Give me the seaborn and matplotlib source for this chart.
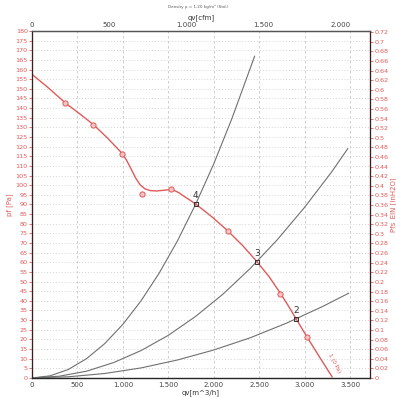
import numpy as np
import pandas as pd
import matplotlib
matplotlib.use("Agg")
import matplotlib.pyplot as plt
import seaborn as sns

# fan curve (m3/h, Pa)
fan_q = [0, 180, 366, 520, 674, 830, 992, 1040, 1090, 1140, 1190, 1240, 1300, 1370, 1440, 1500,
         1560, 1620, 1680, 1740, 1802, 1900, 2000, 2157, 2320, 2476, 2610, 2733, 2820, 2908,
         3025, 3160, 3304]
fan_p = [157.5, 150.5, 142.7, 137.2, 131.5, 124.5, 116.5, 113.0, 108.5, 103.8, 100.2, 98.2, 97.2,
         97.0, 97.3, 97.6, 97.4, 96.0, 94.0, 92.2, 90.2, 86.6, 82.8, 76.2, 68.6, 60.3, 52.5,
         44.0, 37.5, 30.6, 21.4, 11.2, 0.5]

# measured points (open circles)
meas_q = [366, 674, 992, 1212, 1535, 2157, 2733, 3025]
meas_p = [142.5, 131.0, 116.2, 95.4, 97.8, 76.2, 43.4, 21.4]

# system curves
sys4_q = [0, 200, 400, 600, 800, 1000, 1200, 1400, 1600, 1800, 2000, 2200, 2451]
sys4_p = [0, 1.1, 4.4, 10.0, 17.8, 27.8, 40.0, 54.4, 71.0, 90.0, 111.0, 134.5, 167.0]
sys3_q = [0, 300, 600, 900, 1200, 1500, 1800, 2100, 2400, 2700, 3000, 3300, 3476]
sys3_p = [0, 0.9, 3.5, 8.0, 14.2, 22.1, 31.9, 43.4, 56.7, 71.7, 88.5, 107.0, 119.0]
sys2_q = [0, 400, 800, 1200, 1600, 2000, 2400, 2800, 3200, 3487]
sys2_p = [0, 0.6, 2.3, 5.2, 9.3, 14.5, 20.8, 28.4, 37.1, 44.0]

# operating points
op_names = ["4", "3", "2"]
op_q = [1802, 2476, 2908]
op_p = [90.2, 60.3, 30.6]

red = "#e05a5a"
grey = "#707070"

sns.set_style("white")
plt.rcParams["font.family"] = ["DejaVu Sans"]

fig = plt.figure(figsize=(3.96, 3.97), dpi=100)
ax = fig.add_axes([0.0808, 0.048, 0.8535, 0.874])

ax.set_xlim(0, 3720)
ax.set_ylim(0, 180)

# grid
for y in np.arange(5, 180, 5):
    ax.axhline(y, color="#c8c8c8", lw=0.6, ls=(0, (1, 2.5)), zorder=0)
for x in np.arange(500, 3720, 500):
    ax.axvline(x, color="#c8c8c8", lw=0.6, ls=(0, (3, 3)), zorder=0)

sys_df = pd.concat([
    pd.DataFrame({"q": sys4_q, "p": sys4_p, "s": "4"}),
    pd.DataFrame({"q": sys3_q, "p": sys3_p, "s": "3"}),
    pd.DataFrame({"q": sys2_q, "p": sys2_p, "s": "2"}),
])
sns.lineplot(data=sys_df, x="q", y="p", units="s", estimator=None, color=grey,
             lw=0.8, sort=False, ax=ax, legend=False)

fan_df = pd.DataFrame({"q": fan_q, "p": fan_p})
sns.lineplot(data=fan_df, x="q", y="p", color=red, lw=1.0, sort=False, ax=ax)

meas_df = pd.DataFrame({"q": meas_q, "p": meas_p})
sns.scatterplot(data=meas_df, x="q", y="p", s=14, facecolor="#f6c4c4",
                edgecolor=red, linewidth=0.7, ax=ax, zorder=5)

op_df = pd.DataFrame({"q": op_q, "p": op_p})
sns.scatterplot(data=op_df, x="q", y="p", marker="s", s=8, facecolor="none",
                edgecolor="#333333", linewidth=0.7, ax=ax, zorder=6)
for n, q, p in zip(op_names, op_q, op_p):
    ax.text(q, p + 2, n, fontsize=6.5, color="#333333", ha="center", va="bottom")

ax.text(3330, 2, "1 (0 Pa)", fontsize=4, color=red, rotation=-62,
        ha="center", va="bottom")

ax.set_xlabel("qv[m^3/h]", fontsize=5, color="#333333", labelpad=1)
ax.set_ylabel("pf [Pa]", fontsize=5, color=red, labelpad=2)
ax.set_yticks(np.arange(0, 181, 5))
ax.set_xticks(np.arange(0, 3501, 500))
ax.set_xticklabels([f"{v:,}".replace(",", ".") for v in range(0, 3501, 500)])
ax.tick_params(axis="y", colors=red, labelsize=4.6, length=2, width=0.6, pad=1)
ax.tick_params(axis="x", colors="#444444", labelsize=5, length=0, pad=3)
ax.spines["left"].set_color(red)
ax.spines["right"].set_color(red)
ax.spines["bottom"].set_color("#555555")
ax.spines["top"].set_color("#555555")
for s in ax.spines.values():
    s.set_linewidth(0.9)

# right axis in inH2O
ax2 = ax.twinx()
ax2.set_ylim(0, 180 / 249.089)
rt = np.round(np.arange(0, 0.7201, 0.02), 2)
ax2.set_yticks(rt)
ax2.set_yticklabels([("%g" % v) for v in rt])
ax2.tick_params(axis="y", colors=red, labelsize=4.6, length=2, width=0.6, pad=1)
ax2.set_ylabel("Pfs_EIN [inH2O]", fontsize=5, color=red, labelpad=1)
ax2.spines["right"].set_color(red)
ax2.spines["left"].set_color(red)

# top axis in cfm
ax3 = ax.twiny()
ax3.set_xlim(0, 3720 / 1.699)
ax3.set_xticks(np.arange(0, 2001, 500))
ax3.set_xticklabels([f"{v:,}".replace(",", ".") for v in range(0, 2001, 500)])
ax3.tick_params(axis="x", colors="#444444", labelsize=5, length=0, pad=2)
ax3.set_xlabel("qv[cfm]", fontsize=5, color="#333333", labelpad=2)
ax3.spines["top"].set_color("#555555")

fig.text(0.5, 0.982, "Density \u03c1 = 1.20 kg/m\u00b3 (Std.)", fontsize=3,
         color="#555555", ha="center", va="center")

fig.savefig("out.png", dpi=100)
